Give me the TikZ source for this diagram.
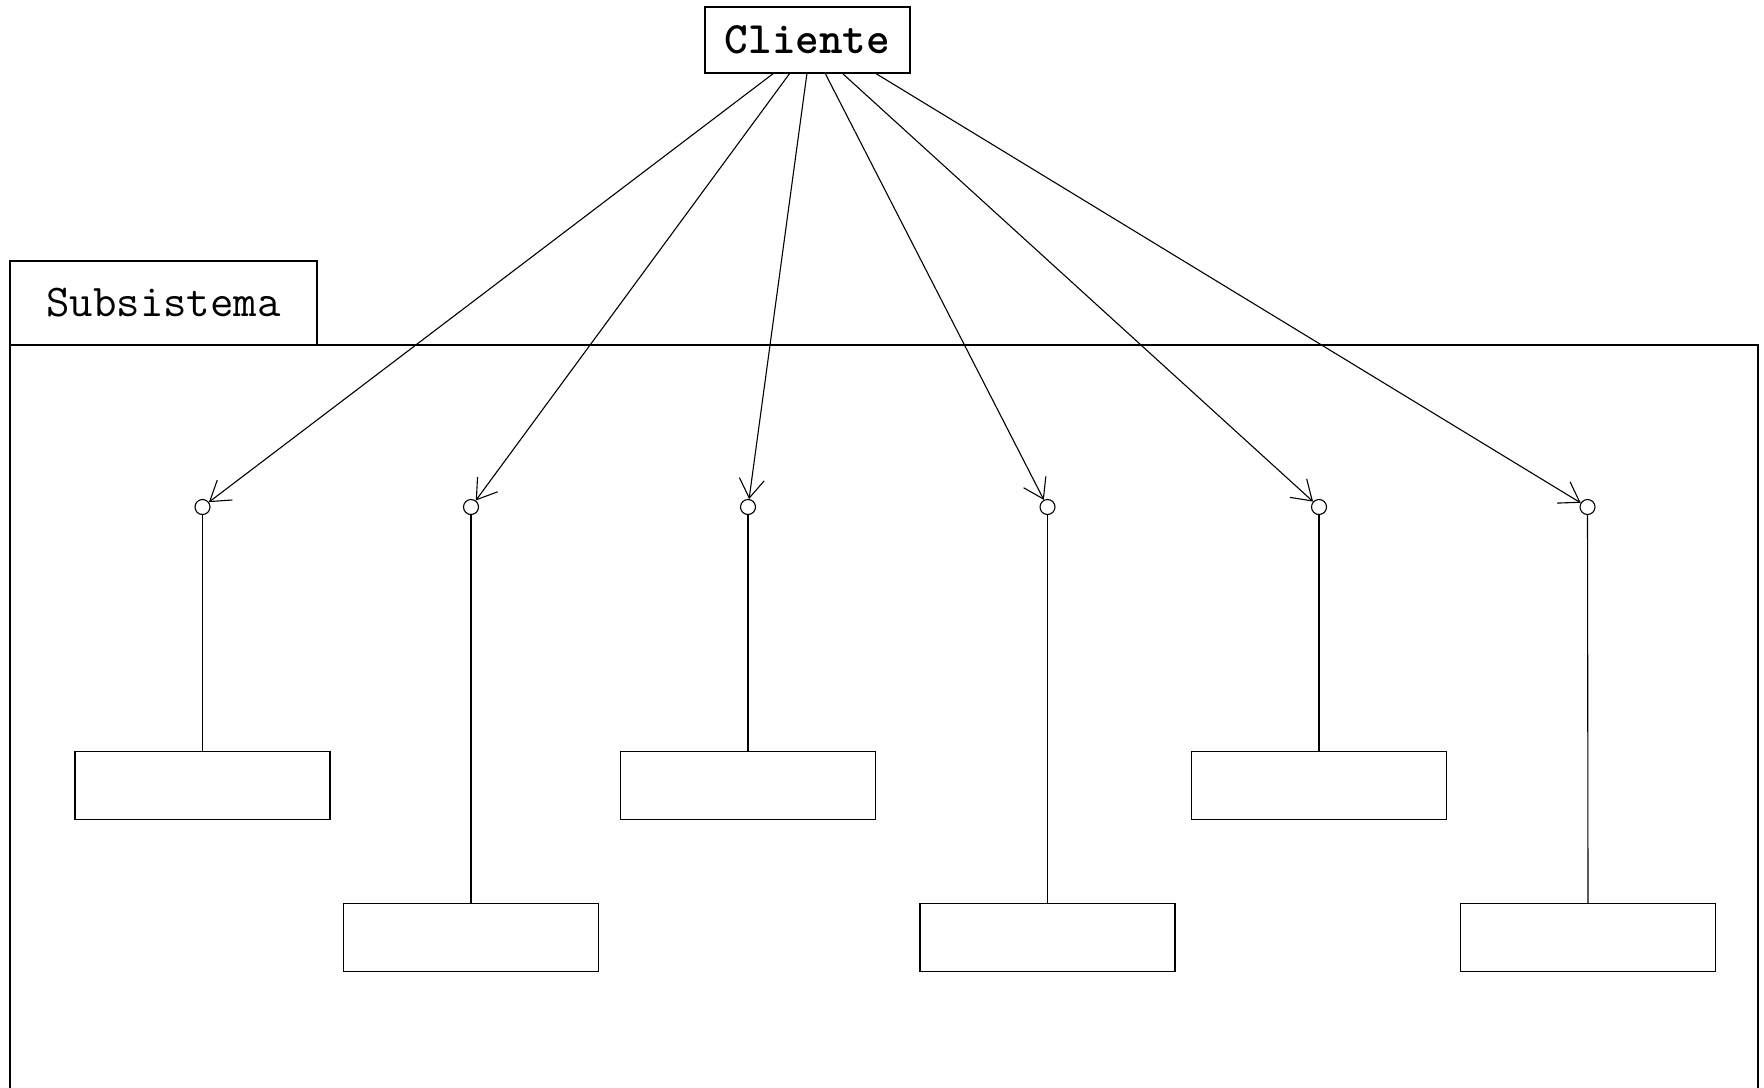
\documentclass[tikz,border=0pt]{standalone}
\usepackage{fontspec}
\usetikzlibrary{arrows.meta}
\begin{document}
\begin{tikzpicture}[x=1pt,y=-1pt,
  every path/.style={line width=1.1pt},
  box/.style={draw,line width=1.1pt,minimum width=255pt,minimum height=68pt,inner sep=0pt},
  lolli/.style={draw,circle,line width=1.1pt,minimum size=15pt,inner sep=0pt},
  dep/.style={-{Straight Barb[length=19pt,width=25pt,line width=1.1pt]}},
]
\useasboundingbox (0,0) rectangle (1764,1087);
\fill[white] (0,0) rectangle (1764,1087);

% package frame with its tab
\node[draw,line width=1.1pt,minimum width=307pt,minimum height=84pt,inner sep=0pt,
      font=\ttfamily\fontsize{45.5}{50}\selectfont] (tab) at (163.5,303) {Subsistema};
\draw (10,1090) -- (10,345) -- (1758,345) -- (1758,1090);

% client
\node[draw,line width=1.1pt,minimum width=205pt,minimum height=66pt,inner sep=0pt,
      font=\ttfamily\bfseries\fontsize{45}{50}\selectfont] (cli) at (807.5,40) {Cliente};

% interfaces
\node[lolli] (l1) at (202.5,507) {};
\node[lolli] (l2) at (471,507) {};
\node[lolli] (l3) at (748,507) {};
\node[lolli] (l4) at (1047.5,507) {};
\node[lolli] (l5) at (1319,507) {};
\node[lolli] (l6) at (1587.5,507) {};

% classes
\node[box] (b1) at (202.5,785.5) {};
\node[box] (b2) at (471,937.5) {};
\node[box] (b3) at (748,785.5) {};
\node[box] (b4) at (1047.5,937.5) {};
\node[box] (b5) at (1319,785.5) {};
\node[box] (b6) at (1588,937.5) {};

\foreach \i in {1,...,6} \draw (l\i.south) -- (b\i.north);

% dependency start points on the client
\coordinate (s1) at (774,73);
\coordinate (s2) at (790,73);
\coordinate (s3) at (807,73);
\coordinate (s4) at (825,73);
\coordinate (s5) at (842,73);
\coordinate (s6) at (875,73);

\foreach \i in {1,...,6} \draw[dep] (s\i) -- (l\i);
\end{tikzpicture}
\end{document}
